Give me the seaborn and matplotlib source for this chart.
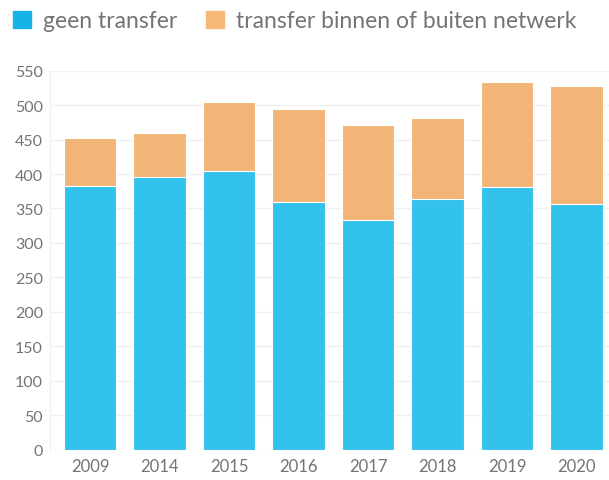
import matplotlib
matplotlib.use("Agg")
import matplotlib.pyplot as plt
import matplotlib.patches as mpatches
import seaborn as sns
import pandas as pd

years = ["2009", "2014", "2015", "2016", "2017", "2018", "2019", "2020"]
geen_transfer = [382, 396, 404, 359, 333, 364, 381, 357]
transfer_netwerk = [70, 63, 100, 136, 138, 118, 152, 171]
yticks = [0, 50, 100, 150, 200, 250, 300, 350, 400, 450, 500, 550]
labels = ["geen transfer", "transfer binnen of buiten netwerk"]

blue = "#32C2EB"
orange = "#F2B577"
legend_blue = "#14B4E8"
legend_orange = "#F5B97A"
text_color = "#747474"

sns.set_theme(style="white")
plt.rcParams["font.family"] = ["Lato", "DejaVu Sans"]

df = pd.DataFrame({
    "year": years,
    "geen": geen_transfer,
    "total": [a + b for a, b in zip(geen_transfer, transfer_netwerk)],
})

fig = plt.figure(figsize=(6.09, 4.81), dpi=100)
ax = fig.add_axes([50 / 609, 1 - 450.5 / 481, 559 / 609, (450.5 - 71.7) / 481])

sns.barplot(data=df, x="year", y="total", color=orange, saturation=1,
            width=0.75, edgecolor="white", linewidth=0.8, ax=ax, zorder=2)
sns.barplot(data=df, x="year", y="geen", color=blue, saturation=1,
            width=0.75, edgecolor="white", linewidth=0.8, ax=ax, zorder=3)

ax.set_ylim(0, 550)
ax.set_xlim(-0.576, 7.468)
ax.set_yticks(yticks)
ax.set_yticklabels([str(v) for v in yticks])
ax.set_xlabel("")
ax.set_ylabel("")
ax.yaxis.grid(True, color="#f0f0f0", linewidth=1, zorder=0)
ax.set_axisbelow(True)
for s in ["top", "right", "bottom"]:
    ax.spines[s].set_visible(False)
ax.spines["left"].set_color("#f0f0f0")
ax.spines["left"].set_linewidth(1)
ax.tick_params(axis="y", length=3, color="#e0e0e0", labelsize=11.5,
               labelcolor=text_color, pad=2)
ax.tick_params(axis="x", length=0, labelsize=12, labelcolor=text_color, pad=6)

handles = [mpatches.Patch(color=legend_blue), mpatches.Patch(color=legend_orange)]
leg = fig.legend(handles, labels, loc="center left",
                 bbox_to_anchor=(13.3 / 609, 1 - 21.7 / 481),
                 ncol=2, frameon=False, borderpad=0, borderaxespad=0,
                 handlelength=0.78, handleheight=0.78,
                 handletextpad=0.53, columnspacing=1.25, fontsize=16.5)
for t in leg.get_texts():
    t.set_color(text_color)

fig.savefig("out.png", dpi=100)
